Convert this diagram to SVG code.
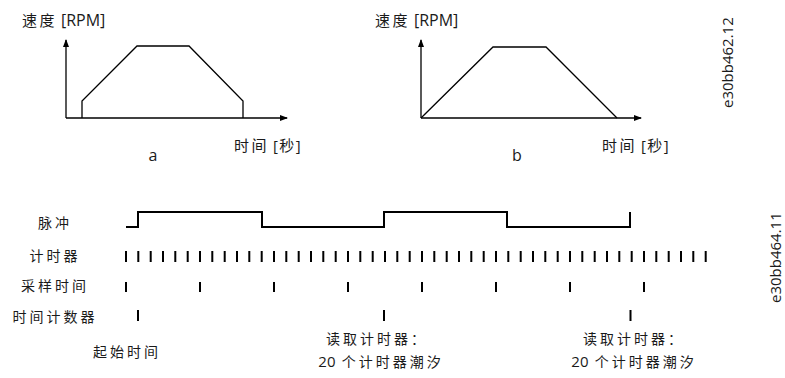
<svg xmlns="http://www.w3.org/2000/svg" width="785" height="378" viewBox="0 0 785 378">
<defs>
<marker id="arr" markerWidth="8" markerHeight="8" refX="7" refY="4" orient="auto" markerUnits="userSpaceOnUse">
<path d="M0,1 L8,4 L0,7 Z" fill="#000"/>
</marker>
<style>
.t{font-family:"Open Sans","Noto Sans CJK SC",sans-serif;font-size:15px;fill:#1a1a1a}
.k{letter-spacing:2.5px}
.s{letter-spacing:1.5px}
.r{font-size:16px}
.l{font-family:"Open Sans",sans-serif;font-size:16px;fill:#1a1a1a}
.c{font-family:"Noto Sans CJK SC",sans-serif;font-size:14px;fill:#1a1a1a;letter-spacing:3px}
.n{font-family:"Open Sans",sans-serif;letter-spacing:0;font-size:15px}
.ax{stroke:#000;stroke-width:1.3;fill:none}
.sp{stroke:#000;stroke-width:1.3;fill:none;stroke-linejoin:miter}
.pl{stroke:#000;stroke-width:2;fill:none}
.tk{stroke:#000;stroke-width:2}
</style>
</defs>
<g id="graph-a">
<line class="ax" x1="66" y1="118" x2="66" y2="40" marker-end="url(#arr)"/>
<line class="ax" x1="66" y1="118" x2="287" y2="118" marker-end="url(#arr)"/>
<polyline class="sp" points="82,118 82,101 137,46 189,46 243,101 243,118"/>
<text class="t" x="22" y="26"><tspan class="k">速度</tspan> <tspan class="r">[RPM]</tspan></text>
<text class="t" x="234" y="151"><tspan class="k">时间</tspan> <tspan class="s">[秒</tspan>]</text>
<text class="l" x="153" y="161" text-anchor="middle">a</text>
</g>
<g id="graph-b">
<line class="ax" x1="421" y1="118" x2="421" y2="40" marker-end="url(#arr)"/>
<line class="ax" x1="421" y1="118" x2="641" y2="118" marker-end="url(#arr)"/>
<polyline class="sp" points="421,118 493,47 546,47 617,118"/>
<text class="t" x="375" y="26"><tspan class="k">速度</tspan> <tspan class="r">[RPM]</tspan></text>
<text class="t" x="602" y="151"><tspan class="k">时间</tspan> <tspan class="s">[秒</tspan>]</text>
<text class="l" x="517" y="161" text-anchor="middle">b</text>
</g>
<g id="labels">
<text class="c" x="55" y="228" text-anchor="middle">脉冲</text>
<text class="c" x="55" y="261" text-anchor="middle">计时器</text>
<text class="c" x="55" y="291" text-anchor="middle">采样时间</text>
<text class="c" x="55" y="322" text-anchor="middle">时间计数器</text>
</g>
<g id="connectors">
<polyline id="pulse" class="pl" points="126,227 138,227 138,212 262,212 262,227 384,227 384,212 507,212 507,227 630,227 630,212"/>
<g id="timer">
<path d="M126,251v11M138.3,251v11M150.7,251v11M163,251v11M175.3,251v11M187.7,251v11M200,251v11M212.3,251v11M224.7,251v11M237,251v11M249.3,251v11M261.7,251v11M274,251v11M286.3,251v11M298.7,251v11M311,251v11M323.3,251v11M335.7,251v11M348,251v11M360.3,251v11M372.7,251v11M385,251v11M397.3,251v11M409.7,251v11M422,251v11M434.3,251v11M446.7,251v11M459,251v11M471.3,251v11M483.7,251v11M496,251v11M508.3,251v11M520.7,251v11M533,251v11M545.3,251v11M557.7,251v11M570,251v11M582.3,251v11M594.7,251v11M607,251v11M619.3,251v11M631.7,251v11M644,251v11M656.3,251v11M668.7,251v11M681,251v11M693.3,251v11M705.7,251v11" class="tk"/>
</g>
<g id="sampling">
<path d="M126,282v10M200,282v10M274,282v10M348,282v10M422,282v10M496,282v10M570,282v10M644,282v10" class="tk"/>
</g>
<g id="timecounter">
<path d="M138,310v11M384,310v11M630.5,310v11" class="tk"/>
</g>
</g>
<g id="notes">
<text class="c" x="127" y="357" text-anchor="middle">起始时间</text>
<text class="c" x="377" y="344" text-anchor="middle">读取计时器：</text>
<text class="c" x="381" y="367" text-anchor="middle"><tspan class="n">20</tspan> 个计时器潮汐</text>
<text class="c" x="634" y="344" text-anchor="middle">读取计时器：</text>
<text class="c" x="634" y="367" text-anchor="middle"><tspan class="n">20</tspan> 个计时器潮汐</text>
</g>
<g id="ids">
<text class="t" transform="translate(733,108) rotate(-90)">e30bb462.12</text>
<text class="t" transform="translate(781,303) rotate(-90)">e30bb464.11</text>
</g>
</svg>
